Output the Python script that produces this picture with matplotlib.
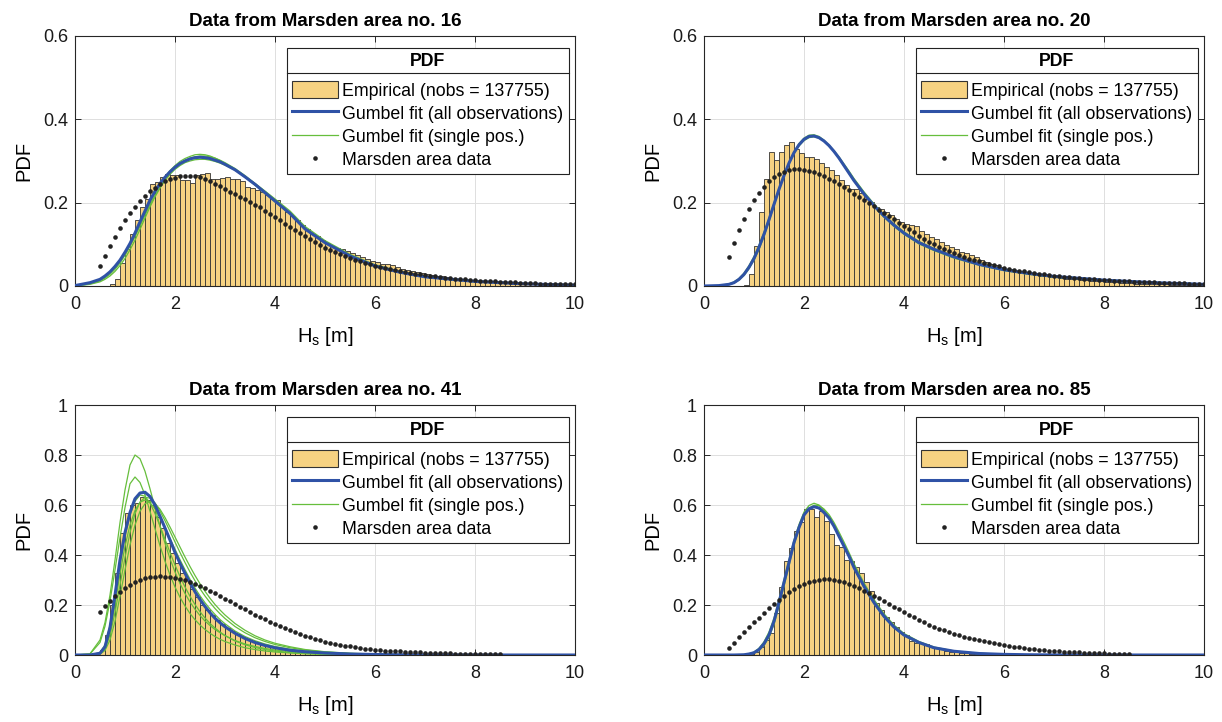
import numpy as np
import matplotlib
matplotlib.use("Agg")
import matplotlib.pyplot as plt
from matplotlib.lines import Line2D
from matplotlib.patches import Patch
from matplotlib.ticker import FuncFormatter

plt.rcParams['font.family'] = ['Liberation Sans', 'DejaVu Sans']
plt.rcParams['mathtext.fontset'] = 'custom'
plt.rcParams['mathtext.rm'] = 'Liberation Sans'

# ---------------- data ----------------
areas = ["16", "20", "41", "85"]
nobs = "137755"

# histogram bar heights, bins of 0.1 m starting at hist_start
hist_start = [0.7, 0.8, 0.4, 0.9]
hist16 = [0.006, 0.018, 0.055, 0.090, 0.126, 0.158, 0.190, 0.208, 0.244, 0.249,
          0.262, 0.270, 0.266, 0.266, 0.254, 0.254, 0.248, 0.266, 0.268, 0.271,
          0.258, 0.258, 0.259, 0.261, 0.258, 0.256, 0.252, 0.238, 0.235, 0.230,
          0.225, 0.218, 0.210, 0.206, 0.190, 0.178, 0.168, 0.158, 0.146, 0.136,
          0.126, 0.120, 0.110, 0.104, 0.097, 0.092, 0.088, 0.084, 0.080, 0.074,
          0.070, 0.064, 0.061, 0.058, 0.052, 0.052, 0.050, 0.046, 0.042, 0.039,
          0.036, 0.034, 0.031, 0.029, 0.027, 0.025, 0.023, 0.021, 0.019, 0.018,
          0.016, 0.015, 0.014, 0.012, 0.011, 0.010, 0.009, 0.008, 0.008, 0.007,
          0.006, 0.006, 0.005, 0.005, 0.004, 0.004, 0.003, 0.003, 0.003, 0.002,
          0.002, 0.002, 0.002]
hist20 = [0.003, 0.029, 0.096, 0.178, 0.258, 0.322, 0.302, 0.322, 0.338, 0.346,
          0.330, 0.320, 0.310, 0.309, 0.304, 0.296, 0.285, 0.278, 0.266, 0.254,
          0.242, 0.234, 0.232, 0.224, 0.210, 0.202, 0.190, 0.184, 0.178, 0.170,
          0.162, 0.154, 0.149, 0.146, 0.144, 0.132, 0.126, 0.117, 0.114, 0.106,
          0.098, 0.094, 0.088, 0.082, 0.080, 0.074, 0.069, 0.062, 0.058, 0.054,
          0.050, 0.046, 0.042, 0.040, 0.037, 0.034, 0.031, 0.029, 0.027, 0.025,
          0.024, 0.022, 0.021, 0.019, 0.018, 0.017, 0.016, 0.015, 0.014, 0.013,
          0.012, 0.011, 0.010, 0.009, 0.009, 0.008, 0.007, 0.007, 0.006, 0.006,
          0.005, 0.005, 0.004, 0.004, 0.004, 0.003, 0.003, 0.003, 0.003, 0.002,
          0.002, 0.002]
hist41 = [0.003, 0.020, 0.080, 0.200, 0.330, 0.487, 0.567, 0.600, 0.607, 0.633,
          0.620, 0.600, 0.553, 0.507, 0.447, 0.410, 0.370, 0.330, 0.300, 0.265,
          0.232, 0.200, 0.180, 0.160, 0.140, 0.125, 0.108, 0.095, 0.083, 0.072,
          0.063, 0.055, 0.048, 0.042, 0.036, 0.031, 0.027, 0.023, 0.020, 0.017,
          0.015, 0.013, 0.011, 0.009, 0.008, 0.007, 0.006, 0.005, 0.004, 0.004,
          0.003, 0.003, 0.002, 0.002, 0.002, 0.001, 0.001]
hist85 = [0.004, 0.013, 0.033, 0.060, 0.087, 0.167, 0.273, 0.377, 0.427, 0.496,
          0.531, 0.583, 0.583, 0.553, 0.576, 0.536, 0.483, 0.440, 0.431, 0.380,
          0.377, 0.353, 0.327, 0.293, 0.257, 0.207, 0.180, 0.151, 0.133, 0.111,
          0.093, 0.080, 0.057, 0.049, 0.047, 0.044, 0.033, 0.027, 0.023, 0.017,
          0.014, 0.011, 0.009, 0.007, 0.006, 0.005, 0.004, 0.003, 0.003, 0.002,
          0.002, 0.001]

# fitted pdf curves, sampled at cx
cx = [0.0, 0.3,
      0.5, 0.6, 0.7, 0.8, 0.9, 1.0, 1.1, 1.2, 1.3, 1.4,
      1.5, 1.6, 1.7, 1.8, 1.9, 2.0, 2.1, 2.2, 2.3, 2.4,
      2.5, 2.6, 2.7, 2.8, 2.9, 3.0,
      3.2, 3.4, 3.6, 3.8, 4.0,
      4.3, 4.6, 5.0,
      5.5, 6.0, 6.5, 7.0,
      8.0, 9.0, 10.0]

blue16 = [0.001, 0.008,
          0.016, 0.024, 0.034, 0.047, 0.062, 0.081, 0.102, 0.127, 0.154, 0.180,
          0.206, 0.227, 0.246, 0.261, 0.274, 0.285, 0.294, 0.300, 0.305, 0.308,
          0.309, 0.308, 0.306, 0.302, 0.298, 0.292,
          0.279, 0.262, 0.244, 0.224, 0.204,
          0.174, 0.137, 0.104,
          0.072, 0.048, 0.033, 0.022,
          0.011, 0.005, 0.002]
green16a = [0.000, 0.005,
            0.012, 0.019, 0.028, 0.040, 0.055, 0.074, 0.096, 0.121, 0.148, 0.176,
            0.202, 0.225, 0.245, 0.262, 0.277, 0.289, 0.299, 0.306, 0.311, 0.315,
            0.316, 0.315, 0.312, 0.307, 0.301, 0.294,
            0.279, 0.261, 0.242, 0.222, 0.202,
            0.172, 0.136, 0.103,
            0.071, 0.047, 0.032, 0.021,
            0.010, 0.005, 0.002]
green16b = [0.000, 0.004,
            0.010, 0.016, 0.024, 0.035, 0.049, 0.066, 0.087, 0.110, 0.136, 0.163,
            0.190, 0.214, 0.235, 0.254, 0.270, 0.283, 0.294, 0.302, 0.307, 0.310,
            0.312, 0.312, 0.310, 0.307, 0.302, 0.296,
            0.282, 0.265, 0.246, 0.226, 0.206,
            0.176, 0.139, 0.106,
            0.073, 0.049, 0.033, 0.022,
            0.011, 0.005, 0.002]
green16c = [0.001, 0.007,
            0.015, 0.022, 0.032, 0.044, 0.058, 0.076, 0.096, 0.119, 0.144, 0.170,
            0.195, 0.217, 0.237, 0.254, 0.268, 0.280, 0.289, 0.296, 0.300, 0.303,
            0.304, 0.304, 0.302, 0.299, 0.295, 0.290,
            0.278, 0.263, 0.246, 0.228, 0.209,
            0.180, 0.143, 0.109,
            0.076, 0.051, 0.035, 0.023,
            0.012, 0.006, 0.003]

blue20 = [0.000, 0.001,
          0.004, 0.008, 0.016, 0.028, 0.045, 0.066, 0.093, 0.124, 0.159, 0.196,
          0.232, 0.265, 0.295, 0.320, 0.339, 0.352, 0.359, 0.360, 0.356, 0.348,
          0.337, 0.323, 0.307, 0.289, 0.271, 0.253,
          0.221, 0.193, 0.168, 0.146, 0.127,
          0.104, 0.088, 0.070,
          0.052, 0.039, 0.030, 0.023,
          0.014, 0.008, 0.004]
green20a = [0.000, 0.001,
            0.003, 0.007, 0.014, 0.025, 0.041, 0.062, 0.088, 0.119, 0.155, 0.193,
            0.230, 0.265, 0.296, 0.322, 0.342, 0.355, 0.362, 0.363, 0.359, 0.350,
            0.338, 0.323, 0.306, 0.288, 0.270, 0.252,
            0.219, 0.190, 0.165, 0.143, 0.124,
            0.101, 0.085, 0.067,
            0.050, 0.037, 0.028, 0.021,
            0.013, 0.007, 0.004]
green20b = [0.000, 0.001,
            0.005, 0.010, 0.018, 0.031, 0.049, 0.071, 0.098, 0.129, 0.163, 0.199,
            0.234, 0.266, 0.294, 0.318, 0.336, 0.349, 0.356, 0.358, 0.355, 0.348,
            0.338, 0.325, 0.310, 0.293, 0.276, 0.258,
            0.226, 0.197, 0.171, 0.149, 0.130,
            0.107, 0.090, 0.072,
            0.054, 0.041, 0.031, 0.024,
            0.015, 0.009, 0.005]

blue41 = [0.000, 0.000,
          0.007, 0.033, 0.110, 0.240, 0.380, 0.490, 0.570, 0.625, 0.648, 0.651,
          0.634, 0.600, 0.555, 0.508, 0.460, 0.410, 0.367, 0.327, 0.289, 0.253,
          0.222, 0.194, 0.169, 0.147, 0.129, 0.113,
          0.087, 0.066, 0.050, 0.038, 0.029,
          0.019, 0.013, 0.008,
          0.004, 0.002, 0.001, 0.0005,
          0.000, 0.000, 0.000]
green41a = [0.000, 0.005,
            0.060, 0.130, 0.240, 0.380, 0.530, 0.660, 0.760, 0.800, 0.785, 0.735,
            0.665, 0.590, 0.515, 0.447, 0.385, 0.332, 0.286, 0.246, 0.212, 0.183,
            0.158, 0.136, 0.118, 0.102, 0.089, 0.077,
            0.058, 0.044, 0.034, 0.026, 0.020,
            0.014, 0.009, 0.006,
            0.003, 0.002, 0.001, 0.0005,
            0.000, 0.000, 0.000]
green41b = [0.000, 0.004,
            0.050, 0.115, 0.215, 0.340, 0.470, 0.590, 0.685, 0.712, 0.690, 0.640,
            0.575, 0.505, 0.437, 0.375, 0.320, 0.272, 0.231, 0.196, 0.166, 0.141,
            0.120, 0.102, 0.087, 0.074, 0.063, 0.054,
            0.040, 0.029, 0.022, 0.016, 0.012,
            0.008, 0.005, 0.003,
            0.0015, 0.001, 0.000, 0.000,
            0.000, 0.000, 0.000]
green41c = [0.000, 0.000,
            0.005, 0.025, 0.080, 0.170, 0.280, 0.390, 0.490, 0.565, 0.612, 0.630,
            0.628, 0.608, 0.576, 0.537, 0.495, 0.452, 0.410, 0.370, 0.332, 0.297,
            0.265, 0.236, 0.210, 0.186, 0.165, 0.146,
            0.114, 0.089, 0.069, 0.054, 0.042,
            0.029, 0.020, 0.012,
            0.006, 0.003, 0.0015, 0.001,
            0.000, 0.000, 0.000]
green41d = [0.000, 0.000,
            0.003, 0.018, 0.060, 0.135, 0.235, 0.340, 0.440, 0.520, 0.575, 0.605,
            0.615, 0.606, 0.583, 0.550, 0.512, 0.472, 0.432, 0.392, 0.354, 0.318,
            0.285, 0.255, 0.227, 0.202, 0.180, 0.160,
            0.126, 0.099, 0.077, 0.060, 0.047,
            0.033, 0.022, 0.013,
            0.007, 0.004, 0.002, 0.001,
            0.000, 0.000, 0.000]
green41e = [0.000, 0.000,
            0.010, 0.040, 0.120, 0.235, 0.365, 0.475, 0.560, 0.615, 0.640, 0.635,
            0.608, 0.566, 0.516, 0.463, 0.410, 0.360, 0.314, 0.272, 0.235, 0.202,
            0.173, 0.148, 0.126, 0.108, 0.092, 0.078,
            0.056, 0.041, 0.030, 0.022, 0.016,
            0.010, 0.006, 0.003,
            0.0015, 0.001, 0.000, 0.000,
            0.000, 0.000, 0.000]
green41f = [0.000, 0.000,
            0.006, 0.030, 0.095, 0.200, 0.325, 0.435, 0.520, 0.578, 0.611, 0.620,
            0.610, 0.585, 0.550, 0.510, 0.466, 0.423, 0.381, 0.341, 0.303, 0.268,
            0.237, 0.209, 0.184, 0.162, 0.142, 0.125,
            0.096, 0.074, 0.057, 0.044, 0.034,
            0.023, 0.015, 0.009,
            0.005, 0.002, 0.001, 0.0005,
            0.000, 0.000, 0.000]

blue85 = [0.000, 0.000,
          0.000, 0.000, 0.0005, 0.001, 0.004, 0.009, 0.022, 0.045, 0.080, 0.135,
          0.210, 0.290, 0.370, 0.450, 0.510, 0.560, 0.585, 0.593, 0.588, 0.570,
          0.548, 0.515, 0.475, 0.435, 0.395, 0.350,
          0.275, 0.210, 0.155, 0.112, 0.080,
          0.050, 0.029, 0.015,
          0.006, 0.0025, 0.001, 0.0004,
          0.000, 0.000, 0.000]
green85a = [0.000, 0.000,
            0.000, 0.000, 0.0005, 0.002, 0.005, 0.012, 0.027, 0.053, 0.092, 0.148,
            0.222, 0.302, 0.382, 0.460, 0.522, 0.572, 0.598, 0.607, 0.600, 0.580,
            0.556, 0.520, 0.478, 0.436, 0.394, 0.348,
            0.270, 0.205, 0.150, 0.108, 0.077,
            0.047, 0.027, 0.014,
            0.005, 0.002, 0.001, 0.0003,
            0.000, 0.000, 0.000]
green85b = [0.000, 0.000,
            0.000, 0.000, 0.000, 0.001, 0.003, 0.007, 0.018, 0.038, 0.070, 0.122,
            0.195, 0.275, 0.357, 0.440, 0.505, 0.557, 0.587, 0.599, 0.598, 0.584,
            0.562, 0.530, 0.492, 0.452, 0.410, 0.366,
            0.288, 0.222, 0.165, 0.120, 0.086,
            0.054, 0.032, 0.016,
            0.007, 0.003, 0.001, 0.0005,
            0.000, 0.000, 0.000]

# Marsden area data, points every 0.1 m from 0.5 m
dots16 = [0.048, 0.072, 0.096, 0.118, 0.139, 0.158, 0.175, 0.190, 0.204, 0.216,
          0.227, 0.236, 0.244, 0.251, 0.256, 0.260, 0.263, 0.264, 0.264, 0.263,
          0.261, 0.257, 0.252, 0.246, 0.239, 0.232, 0.226, 0.220, 0.214, 0.208,
          0.202, 0.195, 0.189, 0.181, 0.174, 0.166, 0.158, 0.150, 0.142, 0.134,
          0.127, 0.119, 0.112, 0.105, 0.098, 0.092, 0.086, 0.081, 0.076, 0.071,
          0.067, 0.063, 0.059, 0.055, 0.052, 0.049, 0.046, 0.043, 0.040, 0.038,
          0.035, 0.033, 0.031, 0.029, 0.028, 0.026, 0.024, 0.023, 0.022, 0.020,
          0.019, 0.018, 0.017, 0.016, 0.015, 0.014, 0.013, 0.012, 0.012, 0.011,
          0.010, 0.010, 0.009, 0.009, 0.008, 0.008, 0.007, 0.007, 0.006, 0.006,
          0.006, 0.005, 0.005, 0.005, 0.004, 0.004]
dots20 = [0.070, 0.104, 0.134, 0.161, 0.185, 0.206, 0.224, 0.238, 0.251, 0.261,
          0.268, 0.274, 0.278, 0.280, 0.280, 0.278, 0.276, 0.273, 0.269, 0.264,
          0.258, 0.252, 0.245, 0.238, 0.230, 0.222, 0.214, 0.207, 0.199, 0.191,
          0.183, 0.175, 0.167, 0.160, 0.152, 0.145, 0.137, 0.129, 0.121, 0.113,
          0.105, 0.100, 0.094, 0.089, 0.084, 0.079, 0.074, 0.070, 0.066, 0.062,
          0.059, 0.056, 0.053, 0.050, 0.047, 0.044, 0.042, 0.039, 0.037, 0.035,
          0.033, 0.031, 0.030, 0.028, 0.027, 0.025, 0.024, 0.022, 0.021, 0.020,
          0.019, 0.018, 0.017, 0.016, 0.015, 0.0145, 0.014, 0.013, 0.0125, 0.012,
          0.011, 0.0105, 0.010, 0.0095, 0.009, 0.0087, 0.0083, 0.008, 0.0076, 0.0072,
          0.0068, 0.0064, 0.006, 0.0058, 0.0056, 0.0054]
dots41 = [0.173, 0.196, 0.216, 0.236, 0.251, 0.267, 0.279, 0.291, 0.300, 0.307,
          0.311, 0.313, 0.315, 0.313, 0.312, 0.309, 0.305, 0.300, 0.293, 0.285,
          0.277, 0.268, 0.257, 0.247, 0.236, 0.225, 0.215, 0.204, 0.193, 0.183,
          0.172, 0.161, 0.152, 0.143, 0.133, 0.124, 0.116, 0.108, 0.100, 0.093,
          0.086, 0.078, 0.072, 0.066, 0.060, 0.054, 0.050, 0.046, 0.042, 0.038,
          0.035, 0.032, 0.029, 0.026, 0.024, 0.022, 0.020, 0.018, 0.017, 0.016,
          0.015, 0.014, 0.013, 0.012, 0.011, 0.010, 0.009, 0.0085, 0.008, 0.0072,
          0.0065, 0.006, 0.0053, 0.0048, 0.0043, 0.004, 0.0037, 0.0034, 0.0032, 0.003,
          0.0028]
dots85 = [0.027, 0.049, 0.071, 0.091, 0.111, 0.131, 0.149, 0.169, 0.187, 0.203,
          0.220, 0.236, 0.251, 0.264, 0.275, 0.284, 0.292, 0.298, 0.301, 0.303,
          0.303, 0.301, 0.297, 0.292, 0.285, 0.277, 0.268, 0.258, 0.248, 0.238,
          0.227, 0.216, 0.205, 0.194, 0.183, 0.172, 0.161, 0.151, 0.141, 0.131,
          0.122, 0.114, 0.106, 0.099, 0.092, 0.086, 0.080, 0.074, 0.069, 0.064,
          0.059, 0.055, 0.051, 0.047, 0.043, 0.040, 0.037, 0.034, 0.031, 0.029,
          0.026, 0.024, 0.022, 0.020, 0.018, 0.017, 0.015, 0.014, 0.013, 0.012,
          0.011, 0.010, 0.009, 0.008, 0.007, 0.0065, 0.006, 0.005, 0.0045, 0.004,
          0.0035]

hists = [hist16, hist20, hist41, hist85]
blues = [blue16, blue20, blue41, blue85]
greens = [[green16c, green16b, green16a],
          [green20b, green20a],
          [green41a, green41b, green41c, green41d, green41e, green41f],
          [green85b, green85a]]
dots = [dots16, dots20, dots41, dots85]
ytops = [0.6, 0.6, 1.0, 1.0]

# ---------------- styling ----------------
FACE = '#F6D282'
EDGE = '#333333'
BLUE = '#2F52A6'
GREEN = '#66BE3C'
DOT = '#222222'
AXC = '#262626'

W, H = 1222, 722
fig = plt.figure(figsize=(W / 100, H / 100), dpi=100)
corners = [(75, 36), (704, 36), (75, 405), (704, 405)]

legends = []
for i in range(4):
    px, py = corners[i]
    ax = fig.add_axes([px / W, 1 - (py + 250) / H, 500 / W, 250 / H])

    edges = np.round(hist_start[i] + 0.1 * np.arange(len(hists[i])), 2)
    ax.bar(edges, hists[i], width=0.1, align='edge', color=FACE,
           edgecolor=EDGE, linewidth=0.6, zorder=2)
    for g in greens[i]:
        ax.plot(cx, g, color=GREEN, lw=0.9, zorder=3)
    ax.plot(cx, blues[i], color=BLUE, lw=2.2, zorder=4)
    dx = np.round(0.5 + 0.1 * np.arange(len(dots[i])), 2)
    ax.plot(dx, dots[i], 'o', color=DOT, ms=3.3, mec='none', zorder=5)

    ax.set_xlim(0, 10)
    ax.set_ylim(0, ytops[i])
    ax.set_xticks([0, 2, 4, 6, 8, 10])
    ax.set_yticks(np.round(np.arange(0, ytops[i] + 0.01, 0.2), 1))
    ax.yaxis.set_major_formatter(FuncFormatter(lambda v, _: f'{v:g}'))
    ax.grid(True, color='#dedede', lw=0.7)
    ax.set_axisbelow(True)
    ax.tick_params(direction='in', top=True, right=True, length=4.5,
                   width=0.7, labelsize=13, colors=AXC, labelcolor='#1a1a1a')
    ax.tick_params(axis='x', pad=7)
    ax.tick_params(axis='y', pad=5)
    for s in ax.spines.values():
        s.set_color(AXC)
        s.set_linewidth(0.8)

    ax.set_title(f'Data from Marsden area no. {areas[i]}', fontsize=13.5,
                 fontweight='bold', pad=7)
    ax.set_xlabel(r'H$_{\mathregular{s}}$ [m]', fontsize=14.5, labelpad=9)
    ax.set_ylabel('PDF', fontsize=14.5, labelpad=7)

    handles = [Patch(facecolor=FACE, edgecolor=EDGE, linewidth=0.8),
               Line2D([], [], color=BLUE, lw=2.2),
               Line2D([], [], color=GREEN, lw=0.9),
               Line2D([], [], ls='none', marker='o', ms=3.3, color=DOT, mec='none')]
    labels = [f'Empirical (nobs = {nobs})', 'Gumbel fit (all observations)',
              'Gumbel fit (single pos.)', 'Marsden area data']
    leg = ax.legend(handles, labels, loc='upper right',
                    bbox_to_anchor=(0.987, 0.953), fontsize=12.8,
                    title='PDF', title_fontproperties={'weight': 'bold', 'size': 12.8},
                    frameon=True, fancybox=False, framealpha=1,
                    handlelength=2.6, handleheight=1.05, handletextpad=0.2,
                    labelspacing=0.27, borderpad=0.3, borderaxespad=0)
    leg._legend_box.sep = 8
    leg.get_frame().set_edgecolor('#222222')
    leg.get_frame().set_linewidth(0.8)
    leg.set_zorder(10)
    legends.append(leg)

# separator line under the legend title
fig.canvas.draw()
r = fig.canvas.get_renderer()
inv = fig.transFigure.inverted()
for leg in legends:
    bb = leg.get_window_extent(r)
    tb = leg.get_title().get_window_extent(r)
    y = tb.y0 - 3
    (x0, yf), (x1, _) = inv.transform([(bb.x0, y), (bb.x1, y)])
    fig.add_artist(Line2D([x0, x1], [yf, yf], transform=fig.transFigure,
                          color='#222222', lw=0.8, zorder=20))

fig.savefig('out.png', dpi=100)
